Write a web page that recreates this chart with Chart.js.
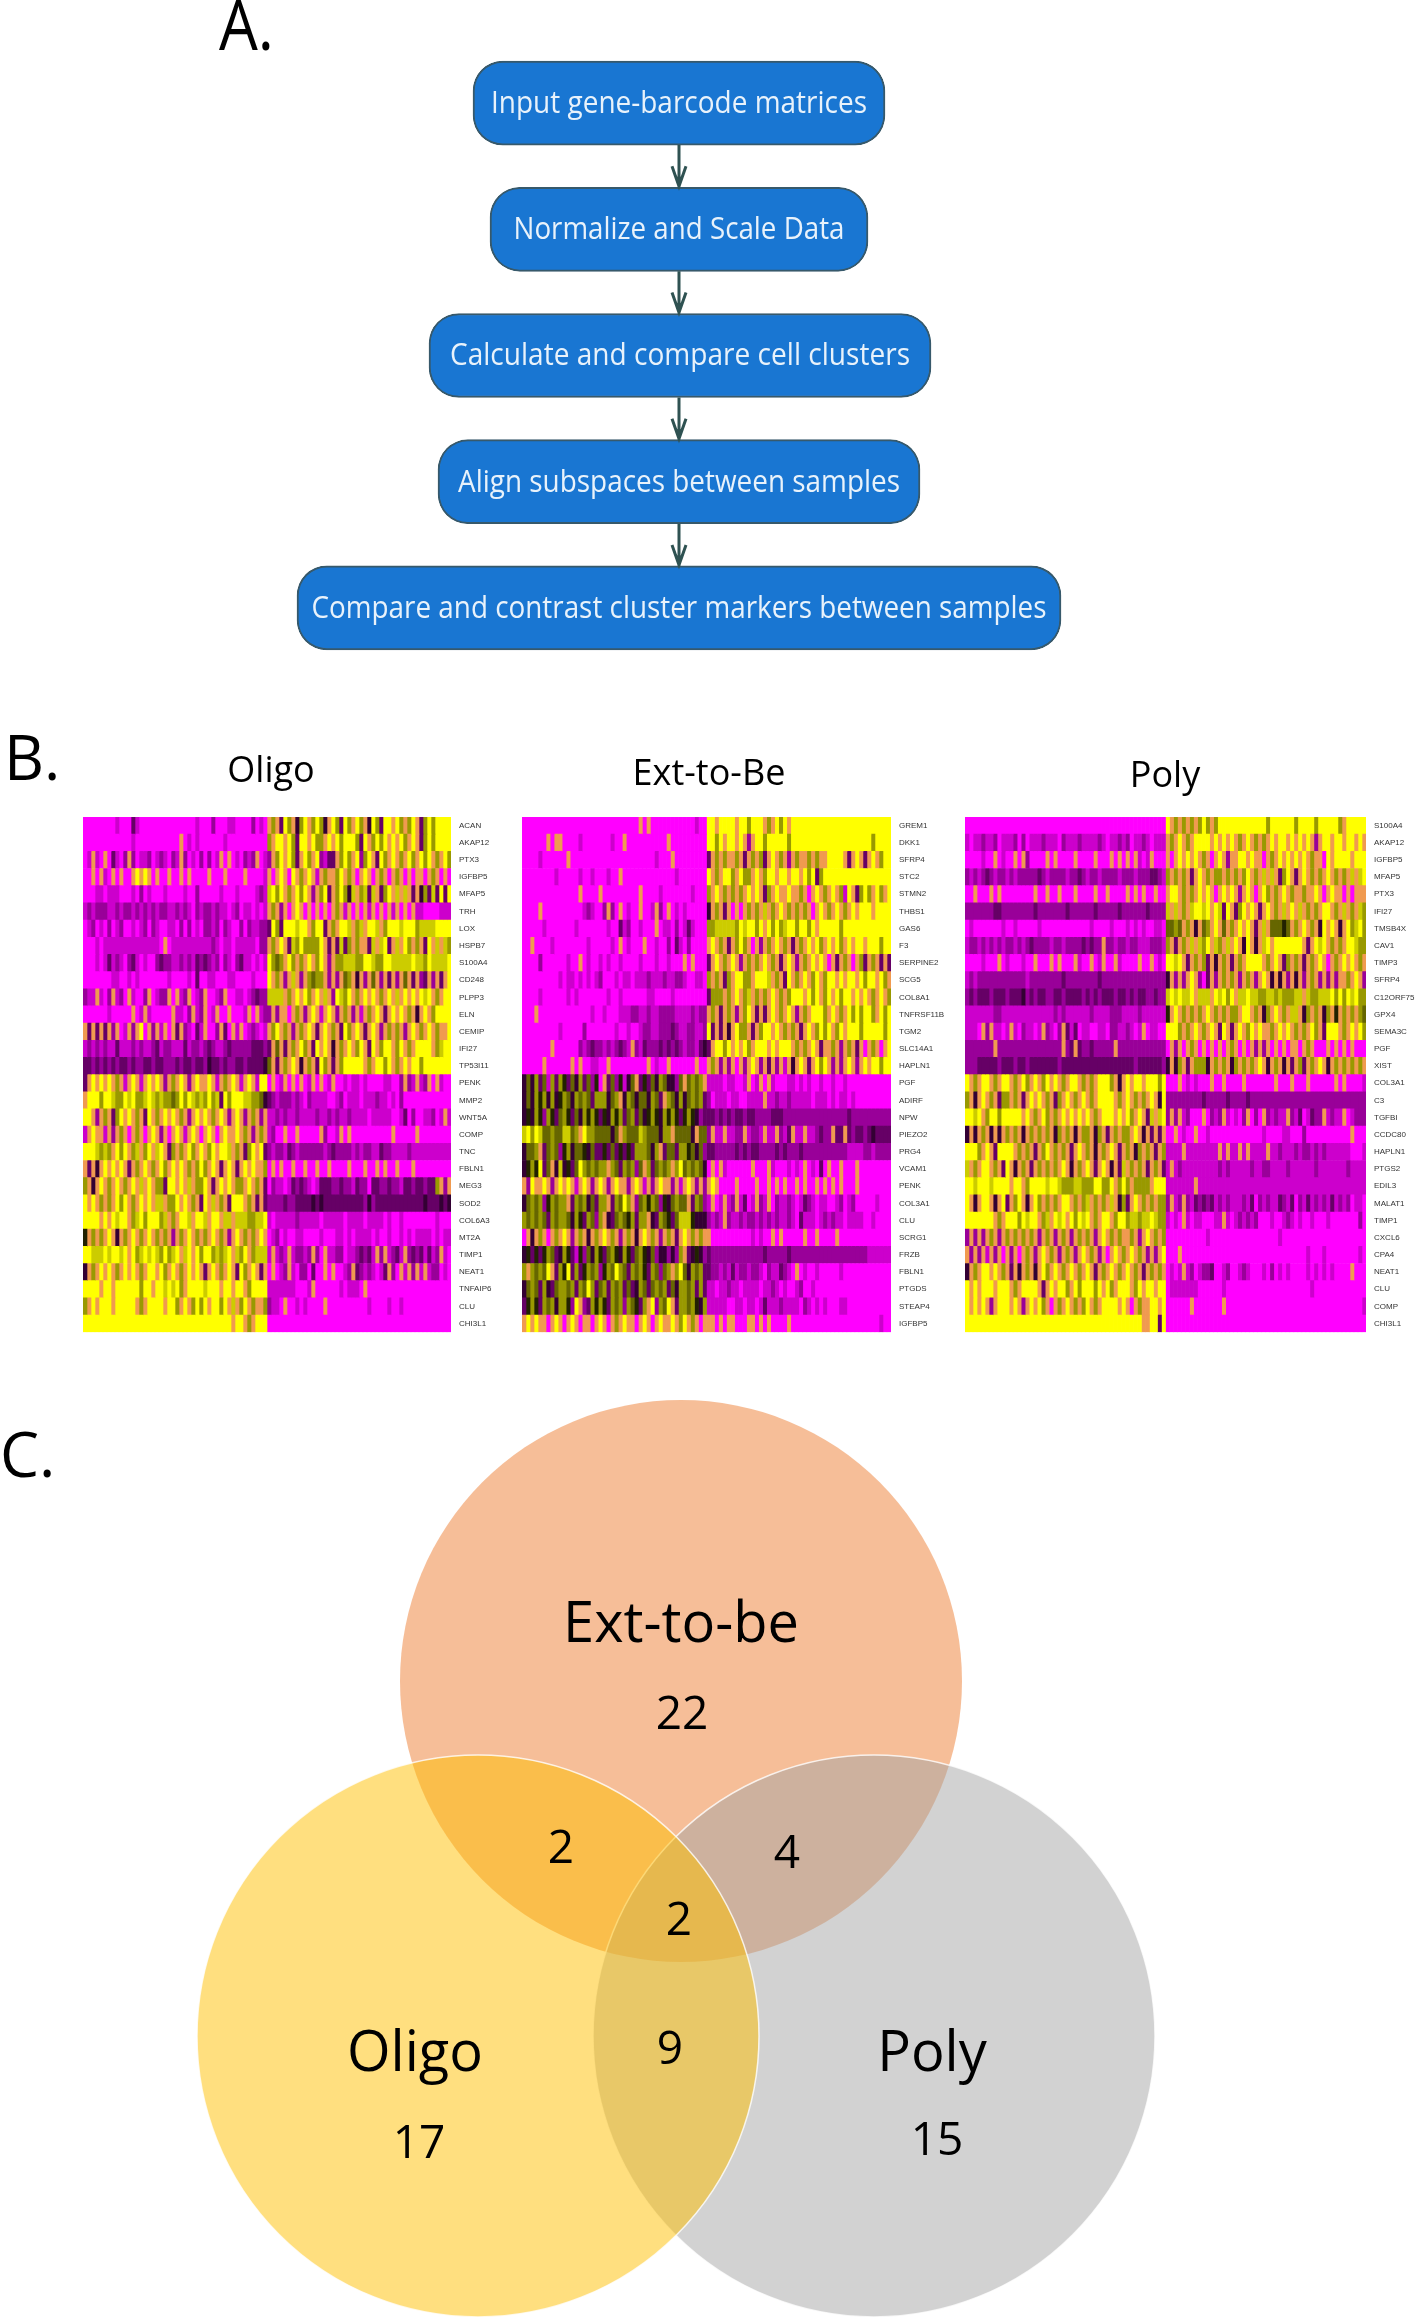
<!DOCTYPE html>
<html>
<head>
<meta charset="utf-8">
<title>Gene-barcode workflow, heatmaps and marker overlap</title>
<script src="https://cdn.jsdelivr.net/npm/chart.js@4"></script>
<style>
    html, body { margin: 0; background: #fff; overflow: hidden; }
    body { width: 1416px; height: 2319px; position: relative; }
    canvas { position: absolute; }
</style>
</head>
<body>
<canvas id="flowChart"></canvas>
<canvas id="oligoChart"></canvas>
<canvas id="extChart"></canvas>
<canvas id="polyChart"></canvas>
<canvas id="vennChart"></canvas>
<script>
// panel A
const flowSteps = ['Input gene-barcode matrices', 'Normalize and Scale Data', 'Calculate and compare cell clusters', 'Align subspaces between samples', 'Compare and contrast cluster markers between samples'];
const flowSpans = [[473, 885], [490, 868], [429, 931], [438, 920], [297, 1061]];
const flowTextWidths = [376, 331, 460, 442, 735];

// panel B, one string per gene, 0 = low (magenta) .. 9 = high (yellow), x = blurred mix
const oligoGenes = ['ACAN', 'AKAP12', 'PTX3', 'IGFBP5', 'MFAP5', 'TRH', 'LOX', 'HSPB7', 'S100A4', 'CD248', 'PLPP3', 'ELN', 'CEMIP', 'IFI27', 'TP53I11', 'PENK', 'MMP2', 'WNT5A', 'COMP', 'TNC', 'FBLN1', 'MEG3', 'SOD2', 'COL6A3', 'MT2A', 'TIMP1', 'NEAT1', 'TNFAIP6', 'CLU', 'CHI3L1'];
const oligoLevels = [
    '0000000010 0031000000 0000000010 0020001100 002010 x7x397x479 x7974x9739 7x97x49739 9x97x79x37 979999',
    '0000000000 0010000000 0000x01010 0000010000 000000 7x99x97399 x977x9x979 99739x7979 x9x97x9x37 979999',
    '01x10x0310 2x20112012 1021x20102 0201x0x010 212x01 2x79x973x9 7x92133x79 7x9279x397 x9x7x97x97 9x7x97',
    '00x0x10x0x 00x9x9x0x0 0x00x0x000 0x000x0000 x00001 x0x9x09x7x 9x1x7xx79x 7x0x9x0x7x 0x7x0x0xx0 x7x0x0',
    '0001101110 0010201000 1000010020 0000100010 000121 8979x7x979 x2x793x797 48x7838x37 9x8x8x3x47 383939',
    '1212221121 2212121212 2112121021 2212110120 110101 x7x2x0x9x0 x0x0x0x7x1 x0x0x1x0x0 x1x0x0x110 000111',
    '0120102012 0010120210 0110202010 2212021002 021122 3973999899 x7993x7x99 8x78x998x7 9998999788 889999',
    '0001011111 1111111110 x011111111 1121011011 111022 x7x9x38797 7779x3x383 7x7xx38x89 3x8x97x7x3 9x8x87',
    '0001013121 0231010023 2211212132 3212021023 110101 9767x97x7x 9x79x2x778 8877998779 9888889887 988889',
    '0000000110 0101000000 0100001030 0110001100 001000 9x7x2x8x2x 7677x2x2x6 7x4x2x6x2x 3x2x6x3x23 x2x3x9',
    '211x102x12 0x1002x012 2x0x12x012 x0012x0011 012322 8888x7x9x9 7x9x8x2987 9x7x9x9x7x 9x8x9x9x98 9x7x99',
    '0000001000 00x01x1000 00x1102x12 x01x00x000 1x0x12 2x2xx0x7x2 x9x1x9x2x7 x2x1x7x9x3 x9x9x7x4x9 x79999',
    'x3x3x3x2x0 1x2x90x2x1 x0x3x21031 x002x30x1x 012101 x79x7x2x7x 9x3x9x7x39 7x9x3x9x2x 7x7x2x9x7x 9x7xx9',
    '1212121131 1121211231 2211131221 2321123222 223332 3x6x3x7x97 x39x9x4x7x 9x79x39x79 9x79x7x999 9x7899',
    '3323232323 3232233233 2223233233 2433232233 233334 6x3x7x9x4x 7x397x3x79 9999x7x997 9x7x9x9979 999999',
    '3x9x9x9x7x 1x9x1x9x9x 2x7x9x2x9x x9x1x7x9x1 x9x199 0x01x0x0x0 1x0x01x001 0110100001 1002x21x12 x0x100',
    'x999799877 9897789878 7767979878 7978397999 887764 3212221210 2111100120 1110111211 0102000000 000000',
    '99x2x7x379 x9x7x39x7x 9x9x7x2x9x 9x7x9x2x9x 2x7x2x 1121211211 1121121211 2111101111 1001302001 1201x1',
    '1x9xx1x2x7 x0x7x0x9x2 x0x9x1x9x0 x9x0x9xx9x 7x2x7x 1200x00x00 000x2001x0 x000000000 0x00000x00 000000',
    '9998787x97 9x78x79x89 x37x7x97x9 x79x998x7x 379x93 2122132122 2222123222 2121221132 2111121111 111111',
    'x3x4x9x9x9 x3x7x9x7x9 7x9x9x7x79 7x9x3x9x3x 9x9xx7 0x0x00x00x 00x00x0000 x000x00x0x 00x000x000 000000',
    '7x4x9x7x9x 7x9x8x9x77 399x9x8x77 9x3x9x9x77 x9x7x3 0211013232 1013332232 2132203322 3221332332 337x2x',
    '9x9x7x7x97 9x7x9x9x88 x779x9x7x3 9x8x7x3999 x7x3x3 2222322333 3434333333 3333242333 3333333334 333434',
    '9999x9x989 9x78979997 8x7x998x99 8x99x88x88 877889 1011111211 1110111110 1111011110 1001000000 001000',
    '5x7x7x9x4x 7x9x7x9x7x 7x2x7x9x7x 7x9x7x2x9x 7x7x9x 0120100110 0001000110 1011110100 1001010111 101011',
    '9988898998 9x97898987 9789x89x97 9978789x87 9x7888 1x121x1221 2x20x11220 1123231x2x 1231x23231 312x10',
    '4x7x9x9x7x 9x9x7x99x9 7x9x7x9x9x 3x9x7x9x39 7x9x3x 0x012x1022 0300x0x001 2x32121013 x20x1x2x1x 122010',
    '9999x99x99 9999799x99 89897x9999 8999x99x99 x79999 1111111000 1x00000010 1110x00000 0000000000 000000',
    '7x9x999x99 999x7x9999 x997x9x797 9x9979x8x7 9x7xx7 2110x00101 0000x00000 0000010000 1001000000 000000',
    '9999999999 9999999999 9999999999 9999999x99 x7x999 0000000000 0000000000 0000000000 0000000000 000000'
];

const extGenes = ['GREM1', 'DKK1', 'SFRP4', 'STC2', 'STMN2', 'THBS1', 'GAS6', 'F3', 'SERPINE2', 'SCG5', 'COL8A1', 'TNFRSF11B', 'TGM2', 'SLC14A1', 'HAPLN1', 'PGF', 'ADIRF', 'NPW', 'PIEZO2', 'PRG4', 'VCAM1', 'PENK', 'COL3A1', 'CLU', 'SCRG1', 'FRZB', 'FBLN1', 'PTGDS', 'STEAP4', 'IGFBP5'];
const extLevels = [
    '0000000000 0000000000 000000000x 0x00000000 000100 99x9999x99 7999x7x979 x999999999 9999999999 999999',
    '000000x0xx 0000100000 00100x0000 000000x000 000000 9979x99x9x 2x99799999 7999999999 9999999999 979999',
    '0000100000 0x00000000 0000000000 0001000x00 000000 3x7x7xx7x3 x7x73x9x7x 2x7xx7x7xx 9999x3x9x3 x9x799',
    '0000000010 0000100100 0100x00000 0000000010 000000 9x7x997x97 7x9x799x99 x99x979379 9999999999 999999',
    '0000000000 0000x0000x 000000000x 0000100000 001000 7x9x7x7x7x 9x9x37x9xx 9xx7x0x9x7 x9x719x379 7x97x9',
    '0000x00000 0000012100 2x20x0100x 001x20x010 100000 4x7x3x0x0x 7x7x8x7x9x 7x7x7x0x9x 7x9x7x9x99 9x9999',
    '0000010000 0001000000 0100312001 000x011020 131000 7788888798 9979x97978 9979979x99 9997999999 999999',
    '00x0000100 0000001000 0010x01000 x00100203 1020000 x9x7x3x797 x0x2x7x9x7 x3x7x9x97x 9x97x9x99x 999799',
    '0000200000 0100x01001 0100100001 0001001000 x0x000 3x9x7x9x2x 7x7x9x7x3x 9x2x7x9x9x 0x3x7x0x73 x7x3x3',
    '0000000001 0110101012 0001011011 1211121122 100110 7x7x37x997 7x9998x7x3 9x7x9x79x7 99x9x99x97 99x97x',
    '0000100000 0101000000 0100100000 0110000100 000000 3777x7x9x7 8x7x7x9x7x 7999x979x7 9x9799x9x9 x7x9x7',
    '000x000000 0000000100 1000111221 1211222211 112122 x7x3x7x2x7 9x3x3x9x7x 9x2x7x9997 x9x7x97979 97x979',
    '0000000001 0000020000 0001001001 2211222321 122112 93x3x4x977 x3x799x9x7 x7x3x9x797 9x79x99979 999979',
    '0000000x00 0000212322 1212321x21 3222323232 122134 3x9979x9x9 7x999x9x99 9x7x7x9x3x x7x2x7x3x0 x7x0x9',
    '00000x0000 00x0x00110 0x00000000 0x0100x000 000x00 x7x2x2x0x2 x9x2x3x2x1 x4x9x3x979 x2x2x9x2x9 x99799',
    '4647361737 5364736250 x3625146x3 5364764426 x6767x 1111011001 x01x0x1000 1101010010 0100100000 000000',
    '4647574745 7647676377 7467x47646 64763x7647 467673 2011101100 1111x11211 2111110111 0101101000 000000',
    '4547527536 7536475753 5475736736 4575475753 575423 3323232332 3322223332 2222222222 2222232222 222222',
    '8979866766 8867x97766 6646x76668 7666477x66 664x66 2x11x1122x 1221x11x21 3x11x11232 2x33x32332 343333',
    '4667x36762 5746654633 5363535377 7647x36637 756462 3322222323 2332222323 2223222222 2222211112 212222',
    '4575936x48 4536976767 7x76376726 x736767x79 676764 0x0x100000 0x000x1000 1010x01030 x00x000x00 000000',
    'x29xx9x2x9 x9x1x9x2x9 x2x9xx2x9x 1x2x9xx2x1 x9x2x2 x9x0000x00 00x00x0x0x 00x0x00x0x 0x0x000x00 000000',
    '4676725767 7x37674637 7x37697x26 7576254676 6x3762 1x01x12x13 01x21x0211 2101321011 0012012000 001000',
    '7676763767 7647537627 x436765737 7x43765368 885444 2121x21121 2212121211 2103111012 1211011110 010000',
    '0x4x7x0x7x 9x2x7x4x7x 9x7x2x7x4x 9x7x2x7x3x 9x7x7x x000000000 010100x0x0 0000x00x00 00x0000000 000000',
    '4535357634 7531526475 3675475367 5462442427 x34542 3222222222 2222322222 3222222222 2222222222 111111',
    '7x76769x37 5937357672 5769763767 5376267x79 647673 3221213122 1221021132 10x0100100 0001000000 000000',
    '4676374367 7673769736 7376736347 6367673647 767373 1101121101 1110112101 0012001000 0000000000 000000',
    '3575376747 7529x23757 5376727653 7x92769x37 767547 1111100110 1101311121 1110210101 0001100000 000000',
    'x9x9xx0x9x 0x9x0xx0x9 x0x7x9xx0x 9x0x9xx9x7 9x7x0x xx0x0xx000 xx0x0x0000 x000000000 0000000000 000100'
];

const polyGenes = ['S100A4', 'AKAP12', 'IGFBP5', 'MFAP5', 'PTX3', 'IFI27', 'TMSB4X', 'CAV1', 'TIMP3', 'SFRP4', 'C12ORF75', 'GPX4', 'SEMA3C', 'PGF', 'XIST', 'COL3A1', 'C3', 'TGFBI', 'CCDC80', 'HAPLN1', 'PTGS2', 'EDIL3', 'MALAT1', 'TIMP1', 'CXCL6', 'CPA4', 'NEAT1', 'CLU', 'COMP', 'CHI3L1'];
const polyLevels = [
    '0000000000 0000000000 0000000000 0000000000 0000000000 9x7x7x7x79 7x79999999 9999979999 9979999799 9997x99999',
    '1011211201 1120201112 1110211121 1112101121 2011210111 x7x9x7x999 9x9x9x9x7x 9x7x7x9x99 x9x9x9x2x9 9x99x99x9x',
    '0000100x01 00x0x20000 x0x0000x00 00x000x0x0 x0x101x000 x0x9x9x9x7 x0x9x2xx99 x9xx0x7x9x 9x9x9x7xx0 9x9999x999',
    '2121232122 1212222232 1222212232 1221222212 2212223321 7x7x7x3x9x 7x77x7x7x7 9x7x8x8x37 9x3x9x7x7x 9x7x7x8x89',
    '00x000x0x0 0000000x00 x00x000x00 00x00x0000 x0x0x00x00 x99x7x7x9x 9x0x9x9x2x 9x0x97x7x9 x7xx7xx9x0 x9xx0x0xxx',
    '2222222332 2222222322 2222232222 2232222232 2222232222 8x8x7x8998 9x9839x379 x9x3x9x7x8 x9x8x7x7x9 9x7x8x7x87',
    '0100000001 0010000010 0000000000 0100001000 1010100110 6676x7x4x6 7x9x6x7x9x 9x3x8x6665 6x7x9x7x49 x9x4x97897',
    '1221212121 2212123222 2122122223 2322x22122 1221112221 7x3x7x8x87 9x87x8x9x4 9x4x89x999 9999x3x989 x7x7x99877',
    '00001000x0 1000100x00 0x0x000x10 0x01x00x10 000x00x010 9989x3x7x7 3x4x7x3x7x 9999x7x9x3 7x7x3x7x9x 0x7x9x9x7x',
    '1212222222 2222212222 2222322222 2223222222 2222222222 4x2x2x9x20 3x2x7x7x2x 7x2x9x4x4x 2x4x2x7x2x 2x2xx7x9x2',
    '2323332333 2333423233 2233233332 3232333233 2323322322 8989889x88 8x98979x88 9887788787 7788x87788 8979798977',
    '1111111221 1111111111 1121211111 1211112221 1112111111 5x9x7x7x7x 9x7x7x77x9 9x7x47x9x7 x88x47x7x4 7x5x7x7x76',
    '1110x2x110 1x1021101x 2102x31301 1001102211 2101x01100 9997x7x9x7 x9x39x3x9x 79x9xx7x9x 9x7x7x97x3 999x7x9x97',
    '2222222x22 2222222222 2222x23x32 2322222x22 2222222222 0x2x0x7x0x 0x0x0x7x0x 0x2x2x0x0x 0xx0x7x000 x0x0x0x000',
    '2223333323 3323323333 3332333333 3333333333 3323333332 4x47x3x777 4x7x7x47x7 x7x9x4x7x4 x3x73x7x9x 4x7x7x7x7x',
    '9x7x99x7x9 9x7x97x9x7 9x9x7x99x7 x7x9997x4x 9x99x99979 000x010100 0x00x0000x 0000000x00 0x000x0000 00x0x00001',
    '7x4x9x7x37 7x7x3x9x9x 7x37x9x7x9 x7x9999x7x 9x7x7x9x49 2222222223 2222232222 3222222222 2222222222 2222222222',
    '9989x79979 9999x9x7x9 7x7x9x9x9x 9x7x999x9x 97x9x38x89 2x2x12000x 0212x10102 x020x21211 x21301322x 1211x01222',
    '4x4x7x4x4x 7x7x4x7x7x 7x47x7x4x7 7x47x3x7x7 7x9x4x3x3x 00x0100x00 1000000000 0000100001 1000200000 000000x000',
    '9997x9x399 99x7x7x3x7 9x7x7x3x9x 7x4x7x9x3x 7x47x7x3x7 1111x11111 111x1x11x1 x1111x1121 1121221212 1111110001',
    '8x7x99x7x3 9x4x7x3x7x 7x7x9x4x7x 9x3x9x4x38 x7x7x3x7x3 1x12111111 1112121111 1211221111 2111111211 1111121111',
    '9989998999 9x99x79999 8998777887 7799779x79 7x7777x999 1111111x11 1111111111 1111111111 1111111111 1111111111',
    '9x4x99x4x9 3x79x4x97x 7x7x99x7x7 8x7x7x8x47 3x9x7x7x77 2x12x21323 2312121112 1302121132 1302131212 1312120110',
    '9999999x7x 99979899x7 8x989x9798 9x7x99x799 7887889877 1010x10110 0011x10121 2120001001 2101001000 1000000020',
    '2x2x2x7x2x 7x7x7x7x2x 7x2x7x2x7x 7x2x9x7x7x x7x2x9x7x7 0000000000 1000000000 0000000010 0000000000 0000000000',
    'x2x2x1x2x0 x2x0x7x2x9 x7x2x7x2x9 x7x2x0x9x7 x9x7x2x2x9 000x000000 0000000000 0000000000 0000010001 0000000010',
    '4x7x99x9x7 x3x4x7x4x9 7x9x7x9x7x 9x3x7x9x7x 9x7x3x7x7x 0101x12012 2300120012 1000102010 1000010101 010000x000',
    '9x9x999x99 9x7x9999x3 x9x997x979 9979x97x99 9x79x99x99 0111111100 0000100000 0000000000 0000001000 0000000000',
    '9x9x9x2x99 9x9x2x9x97 x0x7x9x7x7 9x7x9999x9 x0x7xx99x9 000000x000 0000x00000 0000000000 0000000000 0000000001',
    '9999999999 9999999999 9999999999 9999999999 9999xx9939 0000000000 0000000000 0000000000 0000000000 0000000000'
];

// panel C
const vennNames = ['Ext-to-be', 'Oligo', 'Poly'];
const vennUnique = [22, 17, 15];
const vennOverlaps = [2, 4, 2, 9];

const heatColors = { '0': '#ff00ff', '1': '#cc00cc', '2': '#990099', '3': '#660066', '4': '#330033', '5': '#222200', '6': '#666600', '7': '#999900', '8': '#cccc00', '9': '#ffff00', 'x': '#f09a50' };
const textFont = '"Open Sans", "Noto Sans", sans-serif';

function place(id, left, top, width, height, blur) {
    let c = document.getElementById(id);
    c.width = width;
    c.height = height;
    c.style.left = left + 'px';
    c.style.top = top + 'px';
    c.style.filter = 'blur(' + blur + 'px)';
    return c;
}

function showFlow() {
    let canvas = place('flowChart', 0, 0, 1416, 800, 0.5);
    new Chart(canvas, {
        type: 'bar',
        data: {
            labels: flowSteps,
            datasets: [{
                data: flowSpans,
                backgroundColor: '#1976d2',
                borderColor: '#37596b',
                borderWidth: 2,
                borderSkipped: false,
                borderRadius: 30,
                barThickness: 84
            }]
        },
        options: {
            indexAxis: 'y',
            responsive: false,
            animation: false,
            layout: { autoPadding: false, padding: { top: 40, bottom: 129 } },
            plugins: { legend: { display: false }, tooltip: { enabled: false } },
            scales: {
                x: { display: false, min: 0, max: 1416 },
                y: { display: false }
            }
        },
        plugins: [{
            id: 'flowDecor',
            afterDatasetsDraw(chart) {
                let ctx = chart.ctx;
                let bars = chart.getDatasetMeta(0).data;
                ctx.save();
                ctx.strokeStyle = '#2f5252';
                ctx.fillStyle = '#2f5252';
                ctx.lineWidth = 3;
                for (let i = 0; i < bars.length - 1; i++) {
                    let x = 679;
                    let y0 = bars[i].y + 42;
                    let y1 = bars[i + 1].y - 42;
                    ctx.beginPath();
                    ctx.moveTo(x, y0);
                    ctx.lineTo(x, y1);
                    ctx.moveTo(x - 7, y1 - 21);
                    ctx.lineTo(x, y1 - 1);
                    ctx.lineTo(x + 7, y1 - 21);
                    ctx.stroke();
                    ctx.beginPath();
                    ctx.moveTo(x - 5, y1 - 14);
                    ctx.lineTo(x, y1 - 1);
                    ctx.lineTo(x + 5, y1 - 14);
                    ctx.lineTo(x, y1 - 9);
                    ctx.fill();
                }
                ctx.fillStyle = '#e8f2fb';
                ctx.textAlign = 'center';
                ctx.textBaseline = 'middle';
                ctx.font = '31px ' + textFont;
                bars.forEach(function(bar, i) {
                    ctx.fillText(flowSteps[i], (flowSpans[i][0] + flowSpans[i][1]) / 2, bar.y + 1, flowTextWidths[i]);
                });
                ctx.fillStyle = '#000';
                ctx.textAlign = 'left';
                ctx.textBaseline = 'alphabetic';
                ctx.font = '70px ' + textFont;
                ctx.fillText('A.', 219, 50, 55);
                ctx.font = '62px ' + textFont;
                ctx.fillText('B.', 4, 780);
                ctx.restore();
            }
        }]
    });
}

function showHeat(id, left, top, width, height, plotLeft, plotWidth, title, titleX, titleY, genes, levels) {
    let canvas = place(id, left, top, width, height, 0.6);
    let rows = levels.map(function(s) { return s.replace(/ /g, ''); });
    let columns = rows[0].length;
    let datasets = [];
    for (let c = 0; c < columns; c++) {
        datasets.push({
            data: rows.map(function() { return 1; }),
            backgroundColor: rows.map(function(r) { return heatColors[r[c]] || '#ff00ff'; })
        });
    }
    new Chart(canvas, {
        type: 'bar',
        data: { labels: genes, datasets: datasets },
        options: {
            indexAxis: 'y',
            responsive: false,
            animation: false,
            events: [],
            barPercentage: 1,
            categoryPercentage: 1,
            layout: { autoPadding: false, padding: { left: plotLeft - left, top: 817 - top } },
            plugins: { legend: { display: false }, tooltip: { enabled: false } },
            scales: {
                x: { display: false, stacked: true, min: 0, max: columns },
                y: {
                    stacked: true,
                    position: 'right',
                    grid: { display: false, drawTicks: false },
                    border: { display: false },
                    afterFit(scale) { scale.width = width - (plotLeft - left) - plotWidth; },
                    ticks: {
                        autoSkip: false,
                        padding: 8,
                        color: '#333',
                        font: { family: '"Liberation Sans"', size: 8 }
                    }
                }
            }
        },
        plugins: [{
            id: 'panelTitle',
            afterDraw(chart) {
                let ctx = chart.ctx;
                ctx.save();
                ctx.fillStyle = '#000';
                ctx.textAlign = 'center';
                ctx.textBaseline = 'middle';
                ctx.font = '36px ' + textFont;
                ctx.fillText(title, titleX - left, titleY - top);
                ctx.restore();
            }
        }]
    });
}

function showVenn() {
    let canvas = place('vennChart', 0, 1380, 1416, 939, 0.3);
    let edge = 'rgba(255,255,255,0.8)';
    new Chart(canvas, {
        type: 'bubble',
        data: {
            datasets: [
                { label: 'Oligo', data: [{ x: 478, y: 2036, r: 281 }], backgroundColor: 'rgba(255,192,0,0.5)', borderColor: edge, borderWidth: 1.5, clip: false },
                { label: 'Poly', data: [{ x: 874, y: 2036, r: 281 }], backgroundColor: 'rgba(165,165,165,0.5)', borderColor: edge, borderWidth: 1.5, clip: false },
                { label: 'Ext-to-be', data: [{ x: 681, y: 1681, r: 281 }], backgroundColor: 'rgba(237,125,49,0.5)', borderColor: edge, borderWidth: 0, clip: false }
            ]
        },
        options: {
            responsive: false,
            animation: false,
            events: [],
            layout: { autoPadding: false, padding: 0 },
            plugins: { legend: { display: false }, tooltip: { enabled: false } },
            scales: {
                x: { display: false, min: 0, max: 1416 },
                y: { display: false, min: 1380, max: 2319, reverse: true }
            }
        },
        plugins: [{
            id: 'vennText',
            afterDatasetsDraw(chart) {
                let ctx = chart.ctx;
                let sx = chart.scales.x;
                let sy = chart.scales.y;
                function put(text, x, y) {
                    ctx.fillText(String(text), sx.getPixelForValue(x), sy.getPixelForValue(y));
                }
                ctx.save();
                ctx.fillStyle = '#000';
                ctx.textAlign = 'center';
                ctx.textBaseline = 'middle';
                ctx.font = '56px ' + textFont;
                put(vennNames[0], 681, 1626);
                put(vennNames[1], 415, 2055);
                put(vennNames[2], 932, 2055);
                ctx.font = '46px ' + textFont;
                put(vennUnique[0], 682, 1716);
                put(vennUnique[1], 419, 2145);
                put(vennUnique[2], 937, 2142);
                put(vennOverlaps[0], 561, 1850);
                put(vennOverlaps[1], 787, 1855);
                put(vennOverlaps[2], 679, 1922);
                put(vennOverlaps[3], 670, 2051);
                ctx.textAlign = 'left';
                ctx.textBaseline = 'alphabetic';
                ctx.font = '62px ' + textFont;
                ctx.fillText('C.', 0, 1477 - 1380);
                ctx.restore();
            }
        }]
    });
}

showFlow();
showHeat('oligoChart', 20, 745, 502, 600, 83, 368, 'Oligo', 271, 772, oligoGenes, oligoLevels);
showHeat('extChart', 478, 745, 470, 600, 522, 369, 'Ext-to-Be', 709, 775, extGenes, extLevels);
showHeat('polyChart', 914, 745, 502, 600, 965, 401, 'Poly', 1165, 777, polyGenes, polyLevels);
showVenn();
</script>
</body>
</html>
